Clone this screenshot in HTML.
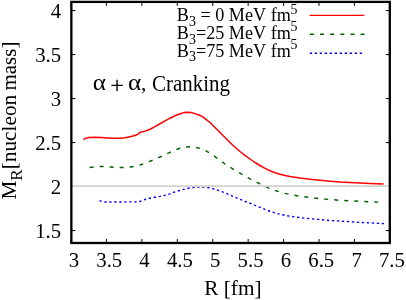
<!DOCTYPE html>
<html><head><meta charset="utf-8"><style>
html,body{margin:0;padding:0;background:#fff;}
svg{display:block;will-change:transform;font-family:"Liberation Serif",serif;}
text{fill:#000;font-kerning:none;}
</style></head><body>
<svg width="406" height="300" viewBox="0 0 406 300">
<rect width="406" height="300" fill="#fff"/>
<path d="M83.25,139.60 L86.00,138.20 L88.75,137.50 L95.00,137.25 L101.00,137.60 L107.50,138.00 L114.00,138.30 L120.00,138.25 L125.00,137.70 L130.00,136.75 L134.00,135.70 L137.50,134.50 L139.00,133.30 L140.00,132.40 L141.50,132.00 L143.75,131.60 L147.00,130.50 L150.00,129.25 L155.00,126.60 L160.00,123.75 L165.00,120.80 L170.00,118.20 L175.00,115.80 L180.00,113.70 L184.00,112.60 L187.50,112.30 L191.00,112.50 L195.00,113.60 L199.00,115.00 L202.50,116.70 L206.00,119.30 L210.00,122.50 L215.00,127.50 L220.00,132.50 L225.00,137.50 L230.00,142.50 L235.00,147.30 L240.00,151.50 L245.00,155.40 L250.00,159.00 L255.00,162.50 L260.00,165.50 L265.00,168.30 L270.00,170.75 L275.00,172.70 L280.00,174.25 L285.00,175.50 L290.00,176.50 L300.00,178.00 L310.00,179.25 L320.00,180.30 L330.00,181.25 L340.00,182.00 L350.00,182.50 L360.00,183.00 L370.00,183.40 L383.60,183.90" fill="none" stroke="#ff0000" stroke-width="1.5" stroke-linejoin="round"/>
<path d="M89.50,167.50 L95.00,166.80 L100.00,166.40 L105.00,166.60 L110.00,167.00 L115.00,167.40 L120.00,167.50 L125.00,167.40 L130.00,167.00 L135.00,166.20 L140.00,165.00 L145.00,163.20 L150.00,161.25 L155.00,159.20 L160.00,157.00 L165.00,154.60 L170.00,152.30 L175.00,150.00 L180.00,148.20 L185.00,147.10 L190.00,146.80 L195.00,147.20 L200.00,148.40 L205.00,150.40 L210.00,153.20 L215.00,156.60 L220.00,160.30 L225.00,164.00 L230.00,167.20 L235.00,170.20 L240.00,173.20 L245.00,176.20 L250.00,178.90 L255.00,181.40 L260.00,183.90 L265.00,186.40 L270.00,188.70 L275.00,190.50 L280.00,192.00 L285.00,193.40 L290.00,194.50 L300.00,196.25 L310.00,197.50 L320.00,198.70 L330.00,199.50 L340.00,200.30 L350.00,200.80 L360.00,201.40 L370.00,201.80 L380.00,202.20 L384.40,202.40" fill="none" stroke="#006400" stroke-width="1.45" stroke-dasharray="4.0 6.03" stroke-dashoffset="-0.15" stroke-linejoin="round"/>
<path d="M99.50,200.60 L102.00,201.50 L105.00,202.00 L112.00,202.10 L120.00,202.00 L128.00,201.90 L135.00,201.90 L140.00,201.50 L142.50,200.60 L145.00,199.50 L150.00,198.20 L155.00,197.20 L160.00,196.40 L165.00,195.20 L170.00,193.80 L175.00,191.90 L180.00,190.30 L185.00,189.00 L190.00,187.90 L195.00,187.20 L200.00,186.95 L205.00,187.15 L210.00,187.90 L215.00,189.30 L220.00,191.00 L225.00,192.80 L230.00,195.00 L235.00,197.20 L240.00,199.30 L245.00,201.30 L250.00,203.25 L255.00,205.40 L260.00,207.40 L265.00,209.40 L270.00,211.25 L275.00,212.90 L280.00,214.25 L285.00,215.40 L290.00,216.25 L300.00,217.60 L310.00,218.75 L320.00,219.60 L330.00,220.50 L340.00,221.10 L350.00,221.70 L360.00,222.40 L370.00,222.90 L385.60,223.65" fill="none" stroke="#0000ff" stroke-width="1.4" stroke-dasharray="2.3 2.7" stroke-linejoin="round"/>
<line x1="309.7" y1="15.4" x2="364.4" y2="15.4" stroke="#ff0000" stroke-width="1.4"/>
<line x1="309.9" y1="34.15" x2="364.7" y2="34.15" stroke="#006400" stroke-width="1.45" stroke-dasharray="4.0 6.15"/>
<line x1="309.75" y1="53.3" x2="362.2" y2="53.3" stroke="#0000ff" stroke-width="1.4" stroke-dasharray="2.3 2.7"/>
<line x1="71.00" y1="243.0" x2="71.00" y2="239.0" stroke="#000" stroke-width="1"/>
<line x1="71.00" y1="1.9" x2="71.00" y2="5.9" stroke="#000" stroke-width="1"/>
<text transform="translate(73.90,266.9) scale(1.03,1)" text-anchor="middle" font-size="20.2">3</text>
<line x1="106.43" y1="243.0" x2="106.43" y2="239.0" stroke="#000" stroke-width="1"/>
<line x1="106.43" y1="1.9" x2="106.43" y2="5.9" stroke="#000" stroke-width="1"/>
<text transform="translate(109.24,266.9) scale(1.03,1)" text-anchor="middle" font-size="20.2">3.5</text>
<line x1="141.86" y1="243.0" x2="141.86" y2="239.0" stroke="#000" stroke-width="1"/>
<line x1="141.86" y1="1.9" x2="141.86" y2="5.9" stroke="#000" stroke-width="1"/>
<text transform="translate(144.57,266.9) scale(1.03,1)" text-anchor="middle" font-size="20.2">4</text>
<line x1="177.29" y1="243.0" x2="177.29" y2="239.0" stroke="#000" stroke-width="1"/>
<line x1="177.29" y1="1.9" x2="177.29" y2="5.9" stroke="#000" stroke-width="1"/>
<text transform="translate(179.91,266.9) scale(1.03,1)" text-anchor="middle" font-size="20.2">4.5</text>
<line x1="212.72" y1="243.0" x2="212.72" y2="239.0" stroke="#000" stroke-width="1"/>
<line x1="212.72" y1="1.9" x2="212.72" y2="5.9" stroke="#000" stroke-width="1"/>
<text transform="translate(215.24,266.9) scale(1.03,1)" text-anchor="middle" font-size="20.2">5</text>
<line x1="248.15" y1="243.0" x2="248.15" y2="239.0" stroke="#000" stroke-width="1"/>
<line x1="248.15" y1="1.9" x2="248.15" y2="5.9" stroke="#000" stroke-width="1"/>
<text transform="translate(250.58,266.9) scale(1.03,1)" text-anchor="middle" font-size="20.2">5.5</text>
<line x1="283.58" y1="243.0" x2="283.58" y2="239.0" stroke="#000" stroke-width="1"/>
<line x1="283.58" y1="1.9" x2="283.58" y2="5.9" stroke="#000" stroke-width="1"/>
<text transform="translate(285.91,266.9) scale(1.03,1)" text-anchor="middle" font-size="20.2">6</text>
<line x1="319.01" y1="243.0" x2="319.01" y2="239.0" stroke="#000" stroke-width="1"/>
<line x1="319.01" y1="1.9" x2="319.01" y2="5.9" stroke="#000" stroke-width="1"/>
<text transform="translate(321.25,266.9) scale(1.03,1)" text-anchor="middle" font-size="20.2">6.5</text>
<line x1="354.44" y1="243.0" x2="354.44" y2="239.0" stroke="#000" stroke-width="1"/>
<line x1="354.44" y1="1.9" x2="354.44" y2="5.9" stroke="#000" stroke-width="1"/>
<text transform="translate(356.58,266.9) scale(1.03,1)" text-anchor="middle" font-size="20.2">7</text>
<line x1="389.87" y1="243.0" x2="389.87" y2="239.0" stroke="#000" stroke-width="1"/>
<line x1="389.87" y1="1.9" x2="389.87" y2="5.9" stroke="#000" stroke-width="1"/>
<text transform="translate(391.91,266.9) scale(1.03,1)" text-anchor="middle" font-size="20.2">7.5</text>
<line x1="71.35" y1="230.60" x2="75.35" y2="230.60" stroke="#000" stroke-width="1"/>
<line x1="389.8" y1="230.60" x2="385.8" y2="230.60" stroke="#000" stroke-width="1"/>
<text transform="translate(61.2,237.50) scale(1.03,1)" text-anchor="end" font-size="20.2">1.5</text>
<text transform="translate(61.2,193.50) scale(1.03,1)" text-anchor="end" font-size="20.2">2</text>
<line x1="71.35" y1="142.60" x2="75.35" y2="142.60" stroke="#000" stroke-width="1"/>
<line x1="389.8" y1="142.60" x2="385.8" y2="142.60" stroke="#000" stroke-width="1"/>
<text transform="translate(61.2,149.50) scale(1.03,1)" text-anchor="end" font-size="20.2">2.5</text>
<line x1="71.35" y1="98.60" x2="75.35" y2="98.60" stroke="#000" stroke-width="1"/>
<line x1="389.8" y1="98.60" x2="385.8" y2="98.60" stroke="#000" stroke-width="1"/>
<text transform="translate(61.2,105.50) scale(1.03,1)" text-anchor="end" font-size="20.2">3</text>
<line x1="71.35" y1="54.60" x2="75.35" y2="54.60" stroke="#000" stroke-width="1"/>
<line x1="389.8" y1="54.60" x2="385.8" y2="54.60" stroke="#000" stroke-width="1"/>
<text transform="translate(61.2,61.50) scale(1.03,1)" text-anchor="end" font-size="20.2">3.5</text>
<line x1="71.35" y1="10.60" x2="75.35" y2="10.60" stroke="#000" stroke-width="1"/>
<line x1="389.8" y1="10.60" x2="385.8" y2="10.60" stroke="#000" stroke-width="1"/>
<text transform="translate(61.2,17.50) scale(1.03,1)" text-anchor="end" font-size="20.2">4</text>
<line x1="71.35" y1="186.15" x2="389.8" y2="186.15" stroke="#d2d2d2" stroke-width="1.7"/>
<rect x="71.35" y="1.9" width="318.45000000000005" height="241.1" fill="none" stroke="#000" stroke-width="2.3"/>
<text x="232.9" y="294.7" text-anchor="middle" font-size="21.3">R [fm]</text>
<text transform="translate(15.5,199.6) rotate(-90)" font-size="21.3">M<tspan font-size="17.04" dy="6.2">R</tspan><tspan dy="-6.2">[nucleon</tspan></text>
<text transform="translate(15.5,90.4) rotate(-90)" font-size="20.9">mass]</text>
<text transform="translate(92.7,90.3) scale(1.13,1.06)" font-size="22.3">α</text>
<path d="M111.4,85.4 H122.8 M117.05,79.7 V90.9" stroke="#000" stroke-width="1.4" fill="none"/>
<text transform="translate(128.0,90.3) scale(1.13,1.06)" font-size="22.3">α</text>
<text x="141.0" y="90.2" font-size="21.5">,</text>
<text transform="translate(152.0,90.8) scale(0.975,1.08)" font-size="21.5">Cranking</text>
<text x="290.8" y="21.4" text-anchor="end" font-size="18.15">B<tspan font-size="13.9" dy="4.8" class="s">3</tspan><tspan dy="-4.8"> = 0 MeV fm</tspan></text><text x="290.5" y="13.50" font-size="13.9" class="s">5</text>
<text x="290.8" y="39.0" text-anchor="end" font-size="18.15">B<tspan font-size="13.9" dy="4.8" class="s">3</tspan><tspan dy="-4.8">=25 MeV fm</tspan></text><text x="290.5" y="31.10" font-size="13.9" class="s">5</text>
<text x="290.8" y="56.6" text-anchor="end" font-size="18.15">B<tspan font-size="13.9" dy="4.8" class="s">3</tspan><tspan dy="-4.8">=75 MeV fm</tspan></text><text x="290.5" y="48.70" font-size="13.9" class="s">5</text>
</svg>
</body></html>
